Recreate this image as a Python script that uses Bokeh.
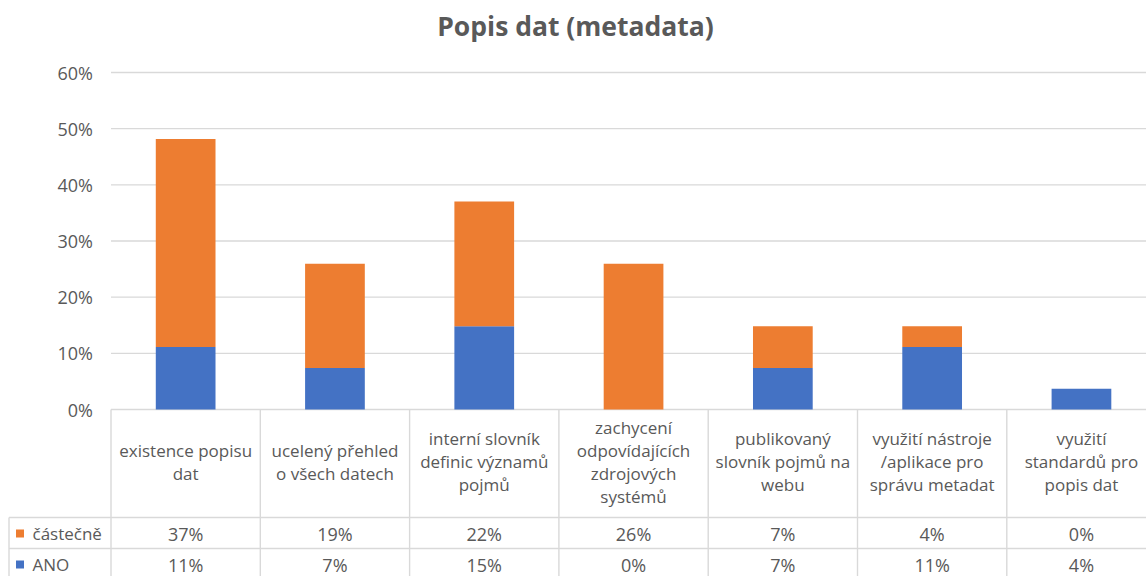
from bokeh.plotting import figure
from bokeh.models import Range1d, FixedTicker, NumeralTickFormatter, Label
from bokeh.embed import file_html
from bokeh.resources import INLINE
from bokeh.core.properties import value

# ---------------- data ----------------
categories = [
    "existence popisu\ndat",
    "ucelený přehled\no všech datech",
    "interní slovník\ndefinic významů\npojmů",
    "zachycení\nodpovídajících\nzdrojových\nsystémů",
    "publikovaný\nslovník pojmů na\nwebu",
    "využití nástroje\n/aplikace pro\nsprávu metadat",
    "využití\nstandardů pro\npopis dat",
]
castecne = [0.3704, 0.1852, 0.2222, 0.2593, 0.0741, 0.0370, 0.0]
ano = [0.1111, 0.0741, 0.1481, 0.0, 0.0741, 0.1111, 0.0370]
series_names = ["částečně", "ANO"]
y_ticks = [0.0, 0.1, 0.2, 0.3, 0.4, 0.5, 0.6]
title_text = "Popis dat (metadata)"

# ---------------- style / layout constants (pixels) ----------------
BLUE = "#4472C4"
ORANGE = "#ED7D31"
TEXT = "#595959"
GRID = "#D9D9D9"
FONT = "Open Sans"

W, H = 1146, 576
LEFT = 110.5        # px of plot-area left edge
CAT_W = 149.3       # px per category
Y0 = 409            # px of 0 %
PX = 337 / 0.6      # px per unit of value
ROW1_TOP = 517      # px of data table first row line
ROW_H = 31

n = len(categories)
xs = -LEFT / CAT_W
x_end = xs + W / CAT_W


def xpx(px):
    return xs + px / CAT_W


def ypx(py):
    return (Y0 - py) / PX


centers = [i + 0.5 for i in range(n)]
bounds = [float(i) for i in range(n)]

p = figure(width=W, height=H,
           x_range=Range1d(xs, x_end),
           y_range=Range1d(ypx(H), ypx(0)),
           output_backend="svg", toolbar_location=None,
           x_axis_location=None,
           min_border_left=0, min_border_right=0,
           min_border_top=0, min_border_bottom=0)
p.outline_line_color = None
p.xgrid.visible = False
p.ygrid.visible = False

# y axis drawn at the plot-area edge
p.yaxis.fixed_location = 0
p.yaxis.ticker = FixedTicker(ticks=y_ticks)
p.yaxis.formatter = NumeralTickFormatter(format="0%")
p.yaxis.axis_line_color = None
p.yaxis.major_tick_line_color = None
p.yaxis.minor_tick_line_color = None
p.yaxis.major_tick_out = 0
p.yaxis.major_tick_in = 0
p.yaxis.major_label_standoff = 18
p.yaxis.major_label_text_font = FONT
p.yaxis.major_label_text_font_size = "18px"
p.yaxis.major_label_text_color = TEXT

# gridlines across plot area only
p.segment(x0=[0] * len(y_ticks), y0=y_ticks, x1=[x_end] * len(y_ticks), y1=y_ticks,
          line_color=GRID, line_width=1.4)

# stacked bars
src = dict(x=centers, ano=ano, castecne=castecne)
p.vbar_stack(["ano", "castecne"], x="x", width=0.40, color=[BLUE, ORANGE],
             line_color=None, source=src)

# ---------------- data table ----------------
y_row1 = ypx(ROW1_TOP)
y_row2 = ypx(ROW1_TOP + ROW_H)
y_lo = ypx(H)
left_border = xpx(8.5)

# category column separators
p.segment(x0=bounds, y0=[0] * n, x1=bounds, y1=[y_lo] * n,
          line_color=GRID, line_width=1.4)
# legend column border
p.segment(x0=[left_border], y0=[y_row1], x1=[left_border], y1=[y_lo],
          line_color=GRID, line_width=1.4)
# row lines
p.segment(x0=[left_border, left_border], y0=[y_row1, y_row2],
          x1=[x_end, x_end], y1=[y_row1, y_row2],
          line_color=GRID, line_width=1.4)

# category labels
label_y = ypx(461)
p.text(x=centers, y=[label_y] * n, text=categories,
       text_align="center", text_baseline="middle",
       text_font=value(FONT), text_font_size="17px",
       text_color=TEXT, text_line_height=1.0)

rows = [castecne, ano]
colors = [ORANGE, BLUE]
row_centers = [ROW1_TOP + 16, ROW1_TOP + ROW_H + 16]
for vals, name, col, rc in zip(rows, series_names, colors, row_centers):
    yc = ypx(rc)
    p.scatter(x=[xpx(19.5)], y=[yc], marker="square", size=8,
              fill_color=col, line_color=None)
    p.text(x=[xpx(32)], y=[yc], text=[name],
           text_align="left", text_baseline="middle",
           text_font=value(FONT), text_font_size="17px", text_color=TEXT)
    p.text(x=centers, y=[yc] * n, text=[f"{v * 100:.0f}%" for v in vals],
           text_align="center", text_baseline="middle",
           text_font=value(FONT), text_font_size="18px", text_color=TEXT)

# title
p.add_layout(Label(x=xpx(575), y=ypx(25),
                   text=title_text, text_align="center", text_baseline="middle",
                   text_font=FONT, text_font_style="bold",
                   text_font_size="26.5px", text_color=TEXT))

open("out.html", "w").write(file_html(p, INLINE))
